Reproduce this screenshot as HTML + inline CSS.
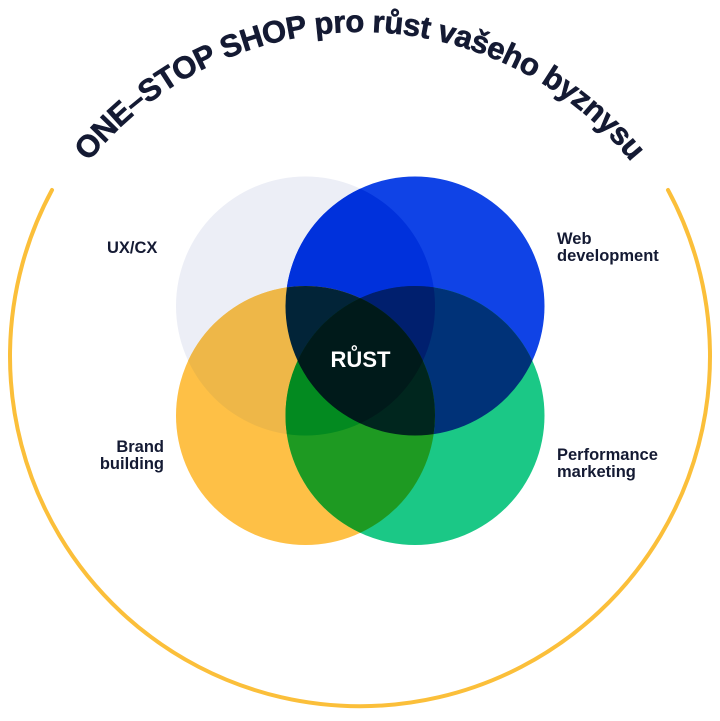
<!DOCTYPE html>
<html><head><meta charset="utf-8"><style>
html,body{margin:0;padding:0;background:#fff;}
svg{display:block;}
text{font-family:"Liberation Sans",sans-serif;font-weight:bold;}
</style></head><body>
<svg width="720" height="721" viewBox="0 0 720 721" xmlns="http://www.w3.org/2000/svg">
<defs>
<clipPath id="cTL"><circle cx="305.5" cy="306" r="129.5"/></clipPath>
<clipPath id="cTR"><circle cx="415" cy="306" r="129.5"/></clipPath>
<clipPath id="cBL"><circle cx="305.5" cy="415.5" r="129.5"/></clipPath>
<clipPath id="cBR"><circle cx="415" cy="415.5" r="129.5"/></clipPath>
<path id="tp" d="M 12 380 A 348 348 0 0 1 708 380"/>
</defs>
<path d="M 52 190 A 350 350 0 1 0 668 190" fill="none" stroke="#fbbf3a" stroke-width="4" stroke-linecap="round"/>
<text font-size="31" fill="#141a33" stroke="#141a33" stroke-width="0.6"><textPath href="#tp" startOffset="50%" text-anchor="middle" textLength="622" lengthAdjust="spacing">ONE–STOP SHOP pro růst vašeho byznysu</textPath></text>

<circle cx="305.5" cy="306" r="129.5" fill="#eceef6"/>
<circle cx="415" cy="306" r="129.5" fill="#1043e6"/>
<circle cx="305.5" cy="415.5" r="129.5" fill="#fec046"/>
<circle cx="415" cy="415.5" r="129.5" fill="#1bc886"/>
<circle cx="415" cy="306" r="129.5" fill="#0031dc" clip-path="url(#cTL)"/>
<circle cx="305.5" cy="415.5" r="129.5" fill="#eeb748" clip-path="url(#cTL)"/>
<circle cx="415" cy="415.5" r="129.5" fill="#003278" clip-path="url(#cTR)"/>
<circle cx="415" cy="415.5" r="129.5" fill="#1e9a22" clip-path="url(#cBL)"/>
<g clip-path="url(#cTL)"><circle cx="415" cy="306" r="129.5" fill="#022438" clip-path="url(#cBL)"/></g>
<g clip-path="url(#cTL)"><circle cx="415" cy="306" r="129.5" fill="#001f6e" clip-path="url(#cBR)"/></g>
<g clip-path="url(#cTL)"><circle cx="305.5" cy="415.5" r="129.5" fill="#038a20" clip-path="url(#cBR)"/></g>
<g clip-path="url(#cTR)"><circle cx="305.5" cy="415.5" r="129.5" fill="#00261e" clip-path="url(#cBR)"/></g>
<g clip-path="url(#cTL)"><g clip-path="url(#cTR)"><circle cx="305.5" cy="415.5" r="129.5" fill="#001a1a" clip-path="url(#cBR)"/></g></g>

<text x="360.5" y="367" font-size="22" fill="#fff" text-anchor="middle">RŮST</text>
<g font-size="16.5" fill="#141a33">
<text x="107" y="253">UX/CX</text>
<text x="557" y="244">Web</text>
<text x="557" y="261">development</text>
<text x="164" y="452" text-anchor="end">Brand</text>
<text x="164" y="469" text-anchor="end">building</text>
<text x="557" y="460">Performance</text>
<text x="557" y="477">marketing</text>
</g>
</svg>
</body></html>
